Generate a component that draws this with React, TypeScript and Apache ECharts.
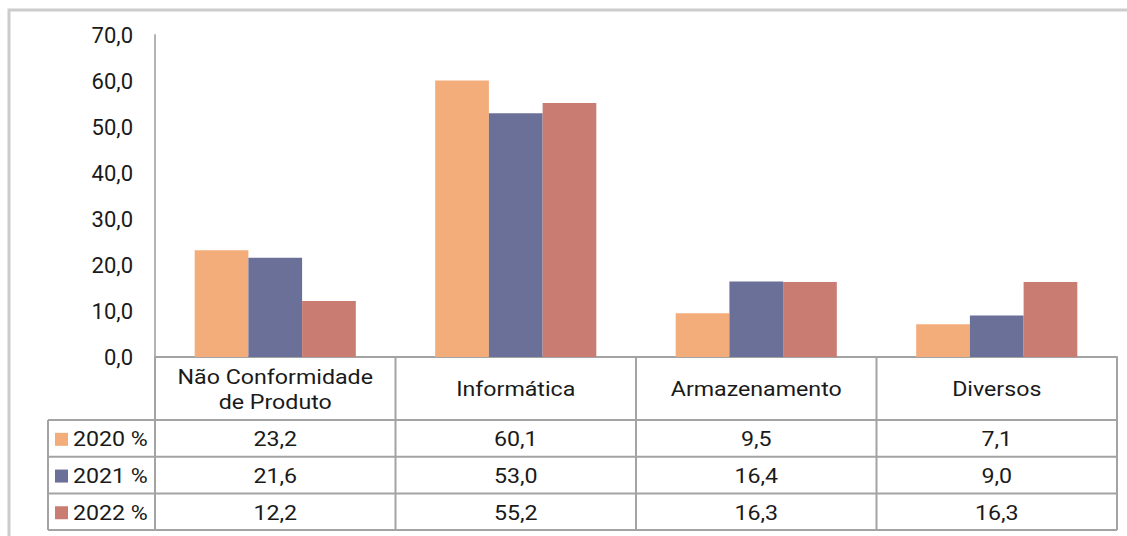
import React, { useEffect, useRef } from "react";
import * as echarts from "echarts";

const categories = ["Não Conformidade\nde Produto", "Informática", "Armazenamento", "Diversos"];
const seriesNames = ["2020 %", "2021 %", "2022 %"];
const values2020 = [23.2, 60.1, 9.5, 7.1];
const values2021 = [21.6, 53.0, 16.4, 9.0];
const values2022 = [12.2, 55.2, 16.3, 16.3];
const seriesValues = [values2020, values2021, values2022];
const colors = ["#F3AD7A", "#6B7099", "#C87C72"];
const yMin = 0;
const yMax = 70;
const yInterval = 10;

const W = 1127;
const H = 536;
const FONT = "Roboto, 'Noto Sans', Arial, sans-serif";
const TEXT = "#1a1a1a";
const LINE = "#a3a3a3";
const SX = 1.16;

const fmt = (v: number) => v.toFixed(1).replace(".", ",");

export default function App() {
  const ref = useRef<HTMLDivElement>(null);
  useEffect(() => {
    if (!ref.current) return;
    const chart = echarts.init(ref.current, null, { renderer: "svg", width: W, height: H });
    chart.setOption({
      animation: false,
      backgroundColor: "#ffffff",
      grid: { left: 155, right: 10, top: 35, bottom: 179, containLabel: false },
      xAxis: {
        type: "category",
        data: categories,
        axisLine: { show: true, lineStyle: { color: LINE, width: 2 } },
        axisTick: { show: false },
        axisLabel: { show: false },
        splitLine: { show: false },
      },
      yAxis: {
        type: "value",
        min: yMin,
        max: yMax,
        interval: yInterval,
        axisLine: { show: true, lineStyle: { color: "#b4b4b4", width: 2 } },
        axisTick: { show: false },
        splitLine: { show: false },
        axisLabel: {
          formatter: (v: number) => fmt(v),
          color: TEXT,
          fontSize: 22,
          fontFamily: FONT,
          margin: 22,
        },
      },
      series: seriesNames.map((name, i) => ({
        name,
        type: "bar",
        data: seriesValues[i],
        itemStyle: { color: colors[i] },
        barGap: "0%",
        barCategoryGap: "33%",
      })),
    });

    const c0 = chart.convertToPixel({ xAxisIndex: 0 }, 0) as number;
    const c1 = chart.convertToPixel({ xAxisIndex: 0 }, 1) as number;
    const band = c1 - c0;
    const left = c0 - band / 2;
    const yZero = chart.convertToPixel({ yAxisIndex: 0 }, 0) as number;
    const right = left + band * categories.length;
    const headerH = 63;
    const rowH = 36.7;
    const rowTops = seriesNames.map((_, i) => yZero + headerH + i * rowH);
    const tableBottom = yZero + headerH + seriesNames.length * rowH;
    const legendLeft = 48;
    const font = `20px ${FONT}`;

    const g: any[] = [];
    // outer frame
    g.push({
      type: "rect",
      shape: { x: 9, y: 10, width: 1300, height: 700 },
      style: { fill: "none", stroke: "#cccccc", lineWidth: 3 },
      silent: true,
    });
    // vertical lines of category columns
    for (let i = 0; i <= categories.length; i++) {
      const x = left + band * i;
      g.push({
        type: "line",
        shape: { x1: x, y1: yZero, x2: x, y2: tableBottom },
        style: { stroke: LINE, lineWidth: 2 },
      });
    }
    // horizontal lines of rows
    for (let i = 0; i <= seriesNames.length; i++) {
      const y = yZero + headerH + i * rowH;
      g.push({
        type: "line",
        shape: { x1: legendLeft, y1: y, x2: right, y2: y },
        style: { stroke: LINE, lineWidth: 2 },
      });
    }
    g.push({
      type: "line",
      shape: { x1: legendLeft, y1: yZero + headerH, x2: legendLeft, y2: tableBottom },
      style: { stroke: LINE, lineWidth: 2 },
    });
    // headers
    categories.forEach((cat, i) => {
      g.push({
        type: "text",
        x: left + band * (i + 0.5),
        y: yZero + headerH / 2 + 1,
        scaleX: SX,
        style: {
          text: cat,
          fill: TEXT,
          font,
          align: "center",
          verticalAlign: "middle",
          lineHeight: 25,
        },
      });
    });
    // rows
    seriesNames.forEach((name, s) => {
      const cy = rowTops[s] + rowH / 2 + 1;
      g.push({
        type: "rect",
        shape: { x: 55, y: cy - 6.5, width: 13, height: 13 },
        style: { fill: colors[s] },
      });
      g.push({
        type: "text",
        x: 73,
        y: cy,
        scaleX: SX,
        style: { text: name, fill: TEXT, font, align: "left", verticalAlign: "middle" },
      });
      seriesValues[s].forEach((v, i) => {
        g.push({
          type: "text",
          x: left + band * (i + 0.5),
          y: cy,
          scaleX: SX,
          style: { text: fmt(v), fill: TEXT, font, align: "center", verticalAlign: "middle" },
        });
      });
    });

    chart.setOption({ graphic: g });
    return () => chart.dispose();
  }, []);
  return (
    <div
      ref={ref}
      style={{ position: "fixed", left: 0, top: 0, width: W, height: H, background: "#fff" }}
    />
  );
}
